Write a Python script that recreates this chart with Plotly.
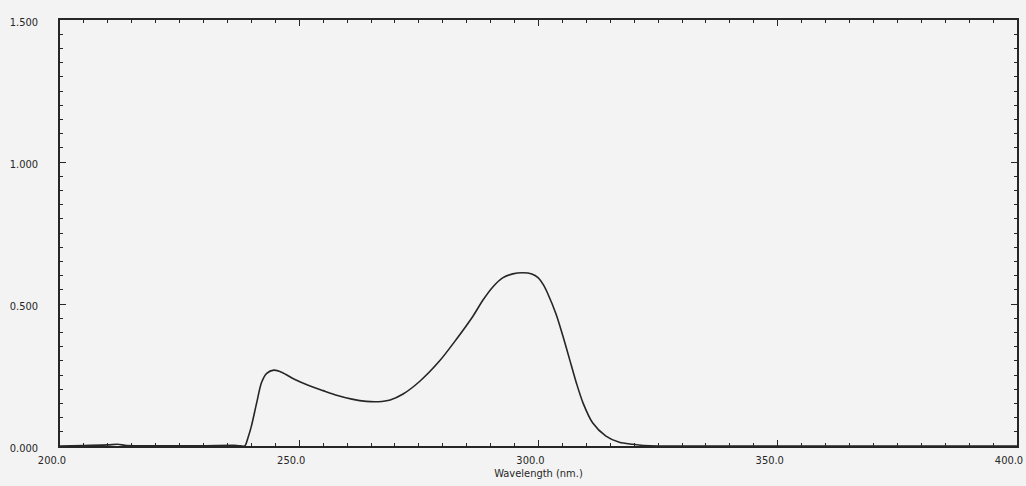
import plotly.graph_objects as go

wavelength = [200, 205, 210, 212, 214, 220, 230, 237, 238.6, 239.3, 240.0, 241.1, 242.1, 243.2,
              244.7, 246.3, 249.1, 252, 255, 258, 261, 264, 266.5, 269, 271.7, 275.2, 279.3,
              282.8, 286.3, 288.4, 290.5, 292.5, 294.6, 296.7, 298.6, 299.9, 301.0, 301.9, 303.7,
              305.1, 306.5, 307.9, 309.3, 311.3, 314.1, 316.9, 319.7, 322, 325, 350, 400]
absorbance = [0.0, 0.002, 0.004, 0.006, 0.002, 0.001, 0.001, 0.002, 0.0, 0.03, 0.07, 0.152,
              0.223, 0.256, 0.267, 0.26, 0.234, 0.213, 0.195, 0.178, 0.165, 0.157, 0.156, 0.162,
              0.183, 0.228, 0.299, 0.375, 0.457, 0.514, 0.561, 0.592, 0.606, 0.61, 0.606, 0.593,
              0.568, 0.538, 0.463, 0.387, 0.305, 0.223, 0.152, 0.082, 0.035, 0.013, 0.006, 0.002,
              0.0, 0.0, 0.0]

x_ticks = [200, 250, 300, 350, 400]
y_ticks = [0.0, 0.5, 1.0, 1.5]
x_title = "Wavelength (nm.)"

ink = "#262626"
bg = "#f3f3f3"
font = "DejaVu Sans Condensed, Liberation Sans, sans-serif"

fig = go.Figure()
fig.add_trace(go.Scatter(x=wavelength, y=absorbance, mode="lines",
                         line=dict(color=ink, width=1.6, shape="spline", smoothing=0.8),
                         showlegend=False, hoverinfo="x+y"))

fig.update_layout(
    width=1026, height=486,
    margin=dict(l=60, r=9, t=20, b=40, autoexpand=False),
    paper_bgcolor=bg, plot_bgcolor=bg,
    font=dict(family=font, size=11, color=ink),
)
fig.update_xaxes(
    range=[200, 400], tickvals=x_ticks, tickformat=".1f", automargin=False,
    showgrid=False, zeroline=False, showline=True, linecolor=ink, linewidth=1.5,
    mirror="allticks", ticks="inside", ticklen=6, tickcolor=ink, tickwidth=1.2,
    minor=dict(dtick=5, ticks="inside", ticklen=3, tickcolor=ink, tickwidth=1),
    ticklabelshift=-8, ticklabelstandoff=3, ticklabeloverflow="allow",
    tickfont=dict(family=font, size=11, color=ink),
    title=dict(text=x_title, font=dict(family=font, size=11, color=ink), standoff=2),
)
fig.update_yaxes(
    range=[0, 1.5], tickvals=y_ticks, tickformat=".3f", automargin=False,
    showgrid=False, zeroline=False, showline=True, linecolor=ink, linewidth=1.5,
    mirror="allticks", ticks="inside", ticklen=6, tickcolor=ink, tickwidth=1.2,
    minor=dict(dtick=0.05, ticks="inside", ticklen=3, tickcolor=ink, tickwidth=1),
    ticklabelshift=2, ticklabelstandoff=18,
    tickfont=dict(family=font, size=11, color=ink),
)

fig.write_html("out.html", config={"displayModeBar": False},
               post_script="document.body.style.margin='0';document.body.style.overflow='hidden';")
